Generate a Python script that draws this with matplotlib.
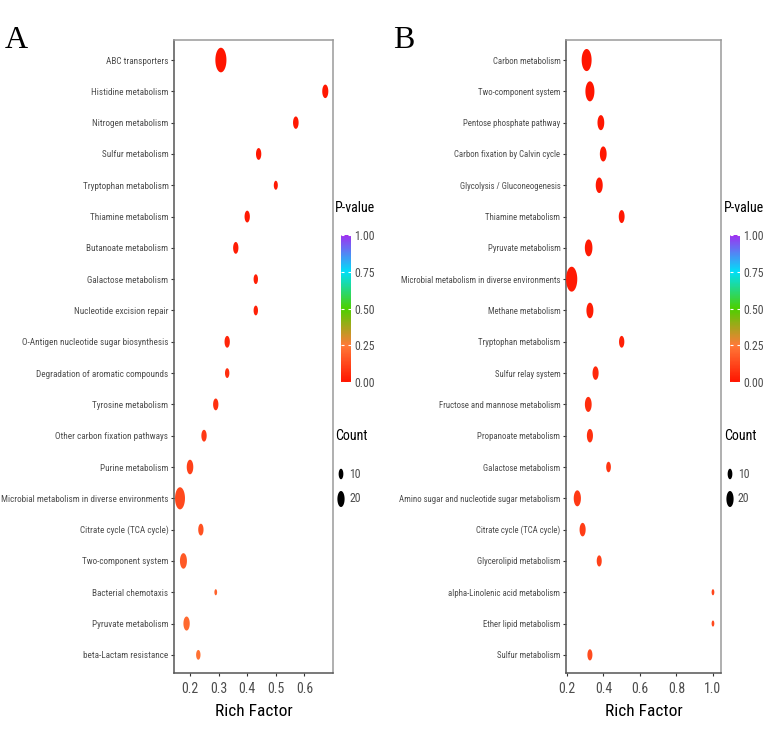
import numpy as np
import matplotlib
matplotlib.use('Agg')
import matplotlib.pyplot as plt
from matplotlib.colors import LinearSegmentedColormap, Normalize
from matplotlib.cm import ScalarMappable
from matplotlib.path import Path

plt.rcParams['font.family'] = ['Liberation Sans Narrow', 'Roboto Condensed', 'Roboto', 'DejaVu Sans']
plt.rcParams['font.stretch'] = 'condensed'

# ---- data, panel A ----
terms_a = ["ABC transporters", "Histidine metabolism", "Nitrogen metabolism",
           "Sulfur metabolism", "Tryptophan metabolism", "Thiamine metabolism",
           "Butanoate metabolism", "Galactose metabolism", "Nucleotide excision repair",
           "O-Antigen nucleotide sugar biosynthesis", "Degradation of aromatic compounds",
           "Tyrosine metabolism", "Other carbon fixation pathways", "Purine metabolism",
           "Microbial metabolism in diverse environments", "Citrate cycle (TCA cycle)",
           "Two-component system", "Bacterial chemotaxis", "Pyruvate metabolism",
           "beta-Lactam resistance"]
rich_a = [0.308, 0.673, 0.57, 0.44, 0.50, 0.40, 0.36, 0.43, 0.43, 0.33,
          0.33, 0.29, 0.249, 0.20, 0.165, 0.238, 0.177, 0.29, 0.188, 0.229]
count_a = [44, 15, 13, 12, 8, 12, 12, 9, 9, 12,
           9, 12, 12, 17, 36, 12, 19, 5, 16, 9]
pval_a = [0.002, 0.005, 0.008, 0.01, 0.012, 0.015, 0.02, 0.025, 0.03, 0.04,
          0.06, 0.07, 0.09, 0.11, 0.13, 0.15, 0.17, 0.19, 0.21, 0.23]

# ---- data, panel B ----
terms_b = ["Carbon metabolism", "Two-component system", "Pentose phosphate pathway",
           "Carbon fixation by Calvin cycle", "Glycolysis / Gluconeogenesis",
           "Thiamine metabolism", "Pyruvate metabolism",
           "Microbial metabolism in diverse environments", "Methane metabolism",
           "Tryptophan metabolism", "Sulfur relay system", "Fructose and mannose metabolism",
           "Propanoate metabolism", "Galactose metabolism",
           "Amino sugar and nucleotide sugar metabolism", "Citrate cycle (TCA cycle)",
           "Glycerolipid metabolism", "alpha-Linolenic acid metabolism",
           "Ether lipid metabolism", "Sulfur metabolism"]
rich_b = [0.308, 0.326, 0.386, 0.399, 0.377, 0.50, 0.319, 0.226, 0.326, 0.50,
          0.357, 0.317, 0.326, 0.428, 0.257, 0.286, 0.377, 1.0, 1.0, 0.326]
count_b = [36, 30, 18, 18, 19, 14, 22, 45, 19, 12,
           15, 18, 15, 10, 20, 15, 11, 5, 5, 11]
pval_b = [0.001, 0.003, 0.005, 0.007, 0.009, 0.011, 0.013, 0.016, 0.02, 0.03,
          0.05, 0.06, 0.07, 0.08, 0.09, 0.1, 0.11, 0.12, 0.13, 0.14]

cbar_ticks = [0.0, 0.25, 0.5, 0.75, 1.0]
cbar_labels = ["0.00", "0.25", "0.50", "0.75", "1.00"]
legend_counts = [10, 20]

W, H = 767, 733
fig = plt.figure(figsize=(W / 100, H / 100), dpi=100)
fig.patch.set_facecolor('white')

cmap = LinearSegmentedColormap.from_list(
    'pv', [(0, '#FF1500'), (0.25, '#FF7A38'), (0.5, '#4CD000'),
           (0.75, '#00E0F8'), (1.0, '#A030F0')])
norm = Normalize(0, 1)

# squashed ellipse marker, like the stretched original
t = np.linspace(0, 2 * np.pi, 64)
ell = Path(np.column_stack([0.45 * np.cos(t), np.sin(t)]), closed=True)


def dot_s(c):
    h = np.sqrt(np.clip(-36 + 14.6 * np.asarray(c, float), 30, None))  # px height
    return (h * 0.72) ** 2


def px_box(l, t_, r, b):
    return [l / W, 1 - b / H, (r - l) / W, (b - t_) / H]


GREY = '#4D4D4D'


def panel(box, terms, rich, count, pval, xlim, xticks, xlabels):
    ax = fig.add_axes(px_box(*box))
    n = len(terms)
    y = np.arange(n)
    ax.scatter(rich, y, s=dot_s(count), c=pval, cmap=cmap, norm=norm,
               marker=ell, linewidths=0, zorder=3)
    ax.set_xlim(*xlim)
    ax.set_ylim(n - 1 + 0.58, -0.64)
    ax.set_yticks(y)
    ax.set_yticklabels(terms, color=GREY, fontsize=10)
    ax.set_xticks(xticks)
    ax.set_xticklabels(xlabels, color=GREY, fontsize=10)
    ax.tick_params(length=2.5, width=0.8, color='#333333', pad=1.5)
    ax.tick_params(axis='x', pad=4)
    ax.set_xlabel('Rich Factor', fontsize=12.5, color='black', labelpad=6)
    for k in ['top', 'right']:
        ax.spines[k].set_color('#9A9A9A')
    for k in ['left', 'bottom']:
        ax.spines[k].set_color('#555555')
    for sp in ax.spines.values():
        sp.set_linewidth(1.1)
    return ax


def legend(cx, title_y):
    # colorbar
    cax = fig.add_axes(px_box(cx, 235, cx + 10, 382))
    cb = fig.colorbar(ScalarMappable(norm=norm, cmap=cmap), cax=cax)
    cb.outline.set_visible(False)
    cb.set_ticks(cbar_ticks)
    cax.set_yticklabels(cbar_labels, color=GREY, fontsize=8.5)
    cax.tick_params(direction='in', color='white', length=2, width=0.8,
                    left=True, right=True, pad=2.5)
    fig.text((cx - 6) / W, 1 - title_y / H, 'P-value', fontsize=10,
             color='black', va='center', ha='left')
    # size legend
    lax = fig.add_axes(px_box(cx - 6, 425, cx + 30, 512))
    lax.set_xlim(0, 36)
    lax.set_ylim(87, 0)
    lax.axis('off')
    lax.scatter([6, 6], [49, 74], s=dot_s(legend_counts), c='black',
                marker=ell, linewidths=0)
    for yy, c in zip([49, 74], legend_counts):
        lax.text(14, yy, str(c), fontsize=8.5, color=GREY, va='center', ha='left')
    lax.text(0, 11, 'Count', fontsize=10, color='black', va='center', ha='left')


ax_a = panel((174, 40, 333, 673), terms_a, rich_a, count_a, pval_a,
             (0.144, 0.70), [0.2, 0.3, 0.4, 0.5, 0.6], ['0.2', '0.3', '0.4', '0.5', '0.6'])
ax_b = panel((566, 40, 721, 673), terms_b, rich_b, count_b, pval_b,
             (0.195, 1.044), [0.2, 0.4, 0.6, 0.8, 1.0], ['0.2', '0.4', '0.6', '0.8', '1.0'])
legend(341, 208)
legend(730, 208)

# shrink the y labels so the longest fits in the left margin (~163 px)
fig.canvas.draw()
r = fig.canvas.get_renderer()
for ax, room in [(ax_a, 164), (ax_b, 160)]:
    wmax = max(tl.get_window_extent(r).width for tl in ax.get_yticklabels())
    fs = 10 * room / wmax
    for tl in ax.get_yticklabels():
        tl.set_fontsize(fs)

fig.text(5 / W, 1 - 48 / H, 'A', family=['Liberation Serif', 'DejaVu Serif'],
         fontsize=23, va='baseline', ha='left')
fig.text(393 / W, 1 - 48 / H, 'B', family=['Liberation Serif', 'DejaVu Serif'],
         fontsize=23, va='baseline', ha='left')

fig.savefig('out.png', dpi=100)
